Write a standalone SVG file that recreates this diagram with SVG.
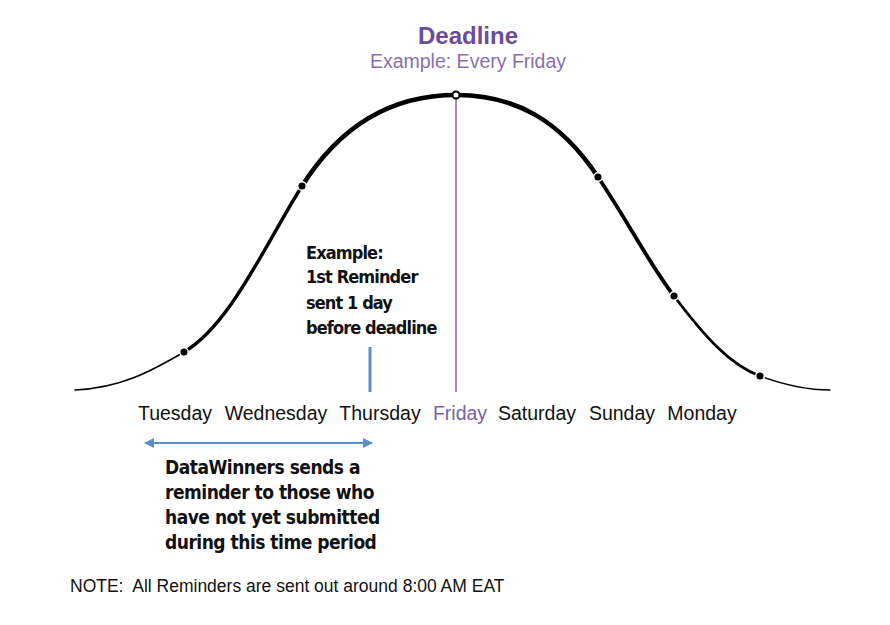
<svg xmlns="http://www.w3.org/2000/svg" width="890" height="625" viewBox="0 0 890 625">
<style>
.day{font-family:"Liberation Sans",Arial,sans-serif;font-size:19.5px;fill:#111;text-anchor:middle}
.hand{font-family:"DejaVu Sans Condensed","DejaVu Sans",sans-serif;font-size:19px;fill:#111;font-weight:bold;letter-spacing:-0.5px}
.hand2{font-family:"DejaVu Sans Condensed","DejaVu Sans",sans-serif;font-size:18px;fill:#111;font-weight:bold;letter-spacing:-0.9px}
.curve{fill:none;stroke:#000;stroke-linecap:round}
.dot{fill:#000;stroke:#fff;stroke-width:1.5}
</style>
<defs>
<marker id="ah" viewBox="0 0 10 10" refX="9" refY="5" markerWidth="5" markerHeight="5" orient="auto-start-reverse">
<path d="M0,0 L10,5 L0,10 z" fill="#5b8fc9"/>
</marker>
</defs>
<rect width="890" height="625" fill="#fff"/>
<g id="curve">
<path class="curve" stroke-width="1.6" d="M75,390 C120,388 150,372 184,352"/>
<path class="curve" stroke-width="3.4" d="M184,352 C230,325 265,245 302,186"/>
<path class="curve" stroke-width="4.6" d="M302,186 C345,118 400,95 456,95 C515,95 560,120 598,177"/>
<path class="curve" stroke-width="3.8" d="M598,177 C630,225 650,265 674,296"/>
<path class="curve" stroke-width="2.8" d="M674,296 C705,337 730,365 760,376"/>
<path class="curve" stroke-width="1.4" d="M760,376 C790,387 810,390 830,390"/>
</g>
<g id="deadline">
<text x="468" y="44" font-family="Liberation Sans,Arial,sans-serif" font-size="24" font-weight="bold" fill="#6b4c9a" text-anchor="middle">Deadline</text>
<text x="468" y="68" font-family="Liberation Sans,Arial,sans-serif" font-size="19.5" fill="#8a6fb0" text-anchor="middle">Example: Every Friday</text>
<line x1="456" y1="93" x2="456" y2="392" stroke="#a58cc4" stroke-width="2"/>
</g>
<g id="dots">
<circle class="dot" cx="184" cy="352" r="4.3"/>
<circle class="dot" cx="302" cy="186" r="4.3"/>
<circle cx="456" cy="95" r="3.5" fill="#fff" stroke="#000" stroke-width="2"/>
<circle class="dot" cx="598" cy="177" r="4.3"/>
<circle class="dot" cx="674" cy="296" r="4.3"/>
<circle class="dot" cx="760" cy="376" r="4.3"/>
</g>
<g id="reminder-note">
<text class="hand2" x="306" y="259">Example:</text>
<text class="hand2" x="306" y="283">1st Reminder</text>
<text class="hand2" x="306" y="309">sent 1 day</text>
<text class="hand2" x="306" y="334">before deadline</text>
<line x1="370" y1="347" x2="370" y2="392" stroke="#5b8fc9" stroke-width="3"/>
</g>
<g id="days">
<text class="day" x="175" y="420">Tuesday</text>
<text class="day" x="276" y="420">Wednesday</text>
<text class="day" x="380" y="420">Thursday</text>
<text class="day" x="460" y="420" style="fill:#7a5fa8">Friday</text>
<text class="day" x="537" y="420">Saturday</text>
<text class="day" x="622" y="420">Sunday</text>
<text class="day" x="702" y="420">Monday</text>
</g>
<g id="connectors">
<line x1="145" y1="443" x2="372" y2="443" stroke="#5b8fc9" stroke-width="2" marker-start="url(#ah)" marker-end="url(#ah)"/>
</g>
<g id="period-note">
<text class="hand" x="165" y="474">DataWinners sends a</text>
<text class="hand" x="165" y="499">reminder to those who</text>
<text class="hand" x="165" y="524">have not yet submitted</text>
<text class="hand" x="165" y="549">during this time period</text>
</g>
<text x="70" y="592" font-family="Liberation Sans,Arial,sans-serif" font-size="17.5" fill="#111" style="white-space:pre">NOTE:  All Reminders are sent out around 8:00 AM EAT</text>
</svg>
